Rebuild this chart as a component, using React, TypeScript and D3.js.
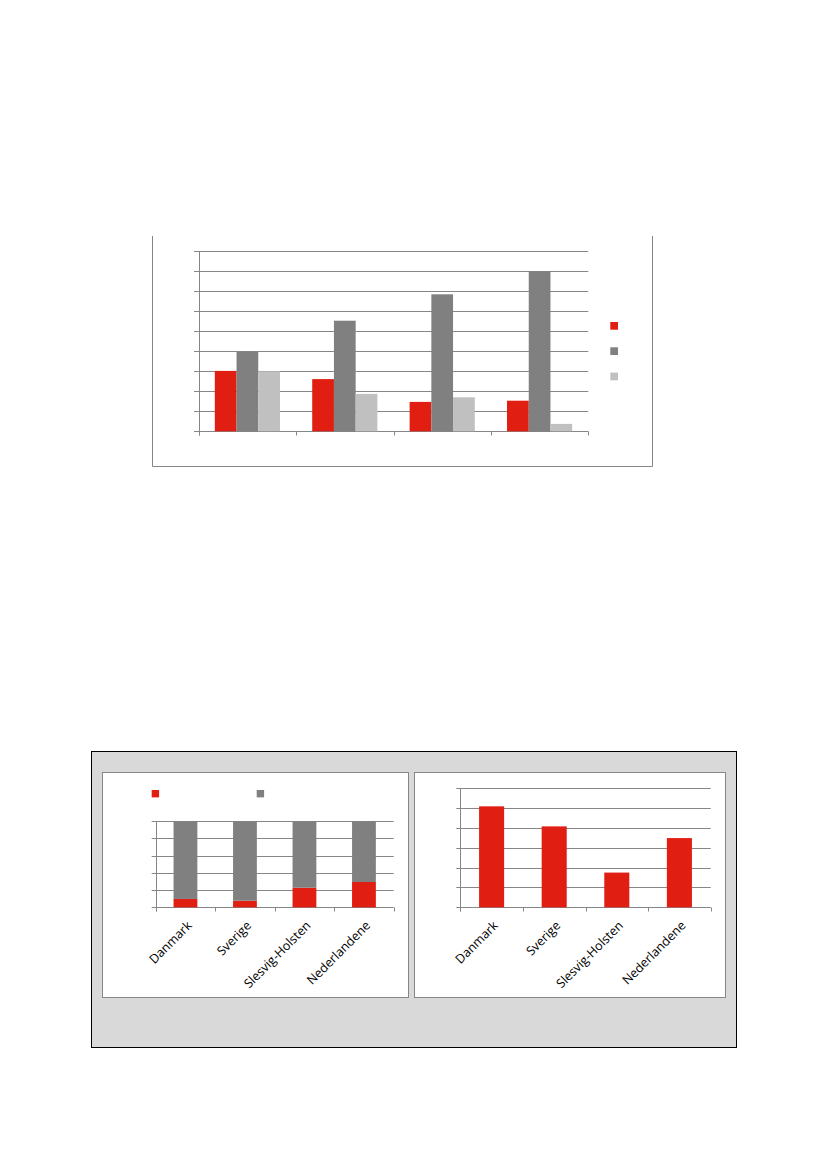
import React from "react";
import * as d3 from "d3";

// ---------- Data ----------
// Top grouped chart (no visible labels in the reference)
const topGroups = ["1", "2", "3", "4"];
const topSeriesRed = [3.02, 2.61, 1.47, 1.53];
const topSeriesGray = [3.97, 5.53, 6.85, 8.0];
const topSeriesLight = [3.0, 1.87, 1.7, 0.37];
const topTicks = [0, 1, 2, 3, 4, 5, 6, 7, 8, 9];

// Bottom charts
const countries = ["Danmark", "Sverige", "Slesvig-Holsten", "Nederlandene"];
const shareRed = [0.097, 0.077, 0.228, 0.294];
const shareGray = [0.903, 0.923, 0.772, 0.706];
const shareTicks = [0, 0.2, 0.4, 0.6, 0.8, 1.0];
const rightValues = [5.09, 4.08, 1.75, 3.49];
const rightTicks = [0, 1, 2, 3, 4, 5, 6];

// ---------- Styles ----------
const RED = "#E01E12";
const GRAY = "#808080";
const LIGHT = "#C0C0C0";
const GRID = "#868686";
const FONT = "'Open Sans', 'Liberation Sans', sans-serif";

const px = (v: number) => Math.round(v) + 0.5;

function TopChart() {
  const x = d3.scaleBand<string>().domain(topGroups).range([198.7, 588.3]).padding(0);
  const y = d3.scaleLinear().domain([0, 9]).range([431.3, 251.3]);
  const bw = x.bandwidth();
  const barW = bw * 0.223;
  const off = (bw - 3 * barW) / 2;
  const series = [
    { vals: topSeriesRed, color: RED },
    { vals: topSeriesGray, color: GRAY },
    { vals: topSeriesLight, color: LIGHT },
  ];
  const x0 = px(198.7);
  const x1 = 588.3;
  return (
    <g>
      {/* frame: left, right, bottom */}
      <path d={`M${px(152)},236 V${px(466)} H${px(652)} V236`} fill="none" stroke={GRID} strokeWidth={1} />
      {topTicks.map((t) => (
        <line key={t} x1={194} x2={x1} y1={px(y(t))} y2={px(y(t))} stroke={GRID} strokeWidth={1} />
      ))}
      <line x1={x0} x2={x0} y1={px(y(9))} y2={435.5} stroke={GRID} strokeWidth={1} />
      {[...topGroups.map((g) => x(g)!), x1].map((v, i) => (
        <line key={i} x1={px(v)} x2={px(v)} y1={px(y(0))} y2={435.5} stroke={GRID} strokeWidth={1} />
      ))}
      {series.map((s, si) =>
        topGroups.map((g, gi) => (
          <rect
            key={`${si}-${gi}`}
            x={x(g)! + off + si * barW}
            y={y(s.vals[gi])}
            width={barW}
            height={y(0) - y(s.vals[gi])}
            fill={s.color}
          />
        ))
      )}
      {series.map((s, si) => (
        <rect key={si} x={610.3} y={322 + si * 25.3} width={7.7} height={7.7} fill={s.color} />
      ))}
    </g>
  );
}

function CatLabels({ x, axisY }: { x: d3.ScaleBand<string>; axisY: number }) {
  return (
    <g>
      {countries.map((c) => {
        const cx = x(c)! + x.bandwidth() / 2 + 4;
        const cy = axisY + 16;
        return (
          <text
            key={c}
            transform={`translate(${cx},${cy}) rotate(-45)`}
            textAnchor="end"
            dy="0.35em"
            fontFamily={FONT}
            fontSize={12.5}
            fill="#000"
          >
            {c}
          </text>
        );
      })}
    </g>
  );
}

function LeftChart() {
  const x = d3.scaleBand<string>().domain(countries).range([155.7, 393.7]).padding(0);
  const y = d3.scaleLinear().domain([0, 1]).range([907.3, 821.3]);
  const bw = x.bandwidth();
  const barW = bw * 0.4;
  const off = (bw - barW) / 2;
  return (
    <g>
      <rect x={px(102)} y={px(772)} width={306} height={225} fill="#fff" stroke={GRID} strokeWidth={1} />
      <rect x={151.7} y={790} width={7.4} height={7.4} fill={RED} />
      <rect x={256.7} y={790} width={7.4} height={7.4} fill={GRAY} />
      {shareTicks.map((t) => (
        <line key={t} x1={151.7} x2={393.7} y1={px(y(t))} y2={px(y(t))} stroke={GRID} strokeWidth={1} />
      ))}
      <line x1={px(155.7)} x2={px(155.7)} y1={px(y(1))} y2={911.5} stroke={GRID} />
      {[...countries.map((c) => x(c)!), 393.7].map((v, i) => (
        <line key={i} x1={px(v)} x2={px(v)} y1={px(y(0))} y2={911.5} stroke={GRID} />
      ))}
      {countries.map((c, i) => (
        <g key={c}>
          <rect x={x(c)! + off} y={y(shareRed[i])} width={barW} height={y(0) - y(shareRed[i])} fill={RED} />
          <rect
            x={x(c)! + off}
            y={y(shareRed[i] + shareGray[i])}
            width={barW}
            height={y(shareRed[i]) - y(shareRed[i] + shareGray[i])}
            fill={GRAY}
          />
        </g>
      ))}
      <CatLabels x={x} axisY={907.3} />
    </g>
  );
}

function RightChart() {
  const x = d3.scaleBand<string>().domain(countries).range([460.3, 710.7]).padding(0);
  const y = d3.scaleLinear().domain([0, 6]).range([907.3, 788.3]);
  const bw = x.bandwidth();
  const barW = bw * 0.4;
  const off = (bw - barW) / 2;
  return (
    <g>
      <rect x={px(414)} y={px(772)} width={311} height={225} fill="#fff" stroke={GRID} strokeWidth={1} />
      {rightTicks.map((t) => (
        <line key={t} x1={456.3} x2={710.7} y1={px(y(t))} y2={px(y(t))} stroke={GRID} strokeWidth={1} />
      ))}
      <line x1={px(460.3)} x2={px(460.3)} y1={px(y(6))} y2={911.5} stroke={GRID} />
      {[...countries.map((c) => x(c)!), 710.7].map((v, i) => (
        <line key={i} x1={px(v)} x2={px(v)} y1={px(y(0))} y2={911.5} stroke={GRID} />
      ))}
      {countries.map((c, i) => (
        <rect key={c} x={x(c)! + off} y={y(rightValues[i])} width={barW} height={y(0) - y(rightValues[i])} fill={RED} />
      ))}
      <CatLabels x={x} axisY={907.3} />
    </g>
  );
}

export default function App() {
  return (
    <svg
      width={827}
      height={1169}
      viewBox="0 0 827 1169"
      style={{ position: "absolute", left: 0, top: 0, background: "#fff" }}
    >
      <rect x={0} y={0} width={827} height={1169} fill="#fff" />
      <TopChart />
      <rect x={px(90.5)} y={px(750.5)} width={645} height={296} fill="#D9D9D9" stroke="#000" strokeWidth={1} />
      <LeftChart />
      <RightChart />
    </svg>
  );
}
